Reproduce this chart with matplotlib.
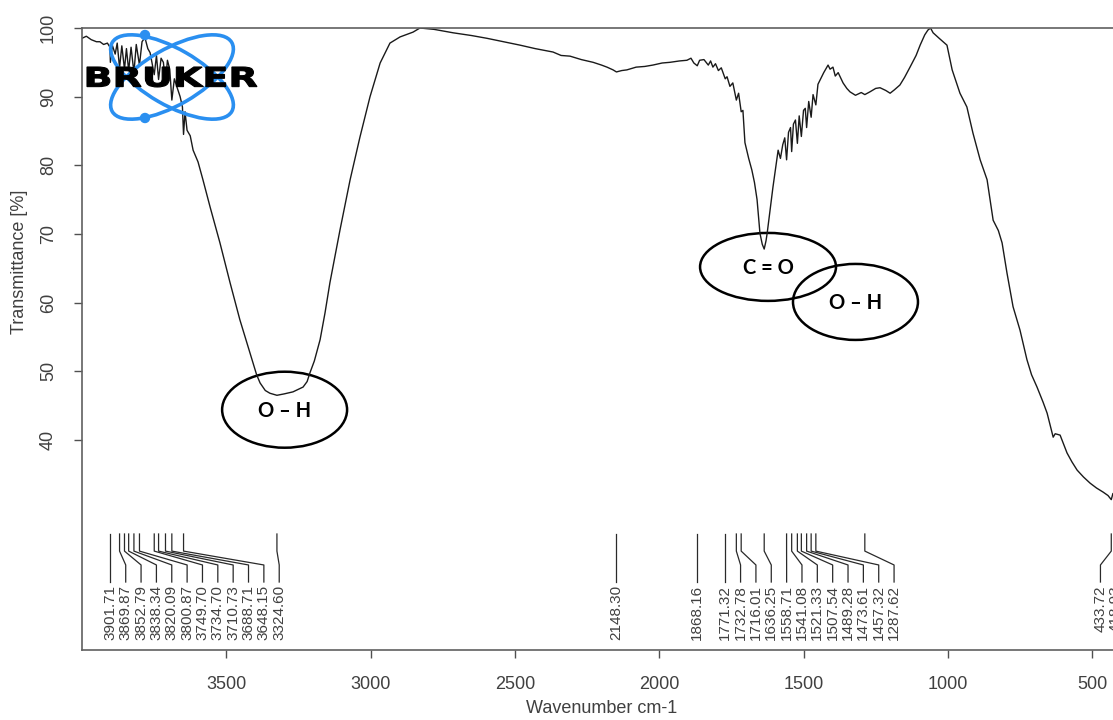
import matplotlib
matplotlib.use('Agg')
import matplotlib.pyplot as plt
from matplotlib.patches import Ellipse, Circle, PathPatch
from matplotlib.textpath import TextPath
from matplotlib.font_manager import FontProperties
from matplotlib.transforms import Affine2D, IdentityTransform

plt.rcParams['font.family'] = ['Liberation Sans', 'DejaVu Sans']

# spectrum (wavenumber, transmittance %)
wavenumber = [4000, 3985, 3968, 3950, 3938, 3925, 3912, 3903, 3901.7, 3895, 3885, 3878,
              3869.9, 3862, 3852.8, 3846, 3838.3, 3830, 3820.1, 3812, 3800.9, 3792, 3782,
              3772, 3764, 3749.7, 3742, 3734.7, 3726, 3718, 3710.7, 3704, 3696, 3688.7,
              3680, 3671, 3660, 3652, 3648.2, 3643, 3636, 3625, 3615, 3598, 3581, 3556,
              3522, 3487, 3453, 3418, 3395, 3383, 3365, 3349, 3324.6, 3300, 3269, 3234,
              3220, 3210, 3195, 3175, 3158, 3141, 3106, 3071, 3037, 3002, 2967, 2933,
              2898, 2853, 2829, 2780, 2714, 2650, 2597, 2540, 2482, 2430, 2368, 2340,
              2309, 2270, 2229, 2200, 2181, 2160, 2148.3, 2130, 2112, 2080, 2050, 2022,
              1990, 1963, 1930, 1904, 1890, 1880, 1868.2, 1860, 1845, 1830, 1822, 1814,
              1805, 1795, 1785, 1771.3, 1765, 1755, 1745, 1732.8, 1725, 1716, 1710, 1703,
              1690, 1679, 1670, 1661, 1651, 1643, 1636.3, 1630, 1626, 1616, 1606, 1597,
              1588, 1580, 1572, 1565, 1558.7, 1552, 1545, 1541.1, 1535, 1528, 1521.3,
              1515, 1507.5, 1500, 1494, 1489.3, 1482, 1473.6, 1467, 1457.3, 1450, 1443,
              1430, 1415, 1408, 1398, 1390, 1380, 1363, 1350, 1339, 1320, 1300, 1287.6,
              1270, 1250, 1235, 1215, 1200, 1185, 1166, 1150, 1131, 1110, 1096, 1080,
              1069, 1060, 1051, 1030, 1003, 985, 970, 958, 934, 913, 888, 864, 843, 825,
              812, 795, 774, 750, 726, 710, 691, 670, 656, 635, 628, 611, 600, 587, 570,
              552, 530, 507, 485, 462, 445, 433.7, 428, 418.9, 410, 400]
transmittance = [98.5, 98.8, 98.3, 98.0, 98.0, 97.6, 97.8, 97.2, 95.0, 97.5, 96.2, 97.8,
                 94.2, 97.4, 94.0, 97.0, 93.8, 97.2, 93.5, 97.6, 94.6, 98.0, 98.6,
                 97.0, 96.4, 93.2, 96.0, 92.5, 95.6, 95.0, 92.0, 95.3, 94.0, 89.5,
                 92.6, 91.4, 90.0, 88.5, 84.5, 87.8, 85.1, 84.3, 82.2, 80.5, 77.9, 73.9,
                 68.7, 62.9, 57.5, 52.7, 49.5, 48.3, 47.2, 46.8, 46.5, 46.7, 47.0, 47.7,
                 48.5, 49.8, 51.5, 54.6, 58.5, 62.9, 70.6, 77.9, 84.1, 90.0, 94.9, 97.8,
                 98.7, 99.4, 100.0, 99.8, 99.3, 98.9, 98.5, 98.0, 97.5, 97.0, 96.5, 96.0,
                 95.9, 95.4, 95.0, 94.6, 94.3, 93.9, 93.6, 93.8, 93.9, 94.3, 94.4, 94.6,
                 94.9, 95.0, 95.2, 95.3, 95.6, 94.9, 94.5, 95.3, 95.4, 94.6, 95.2, 94.3,
                 94.8, 93.8, 94.2, 92.6, 92.9, 91.5, 92.0, 89.5, 90.5, 87.8, 88.0, 83.3,
                 81.0, 79.3, 77.5, 75.0, 70.1, 68.5, 67.8, 69.0, 70.1, 73.5, 76.8, 79.5,
                 82.2, 81.0, 83.0, 84.0, 80.8, 84.8, 85.5, 82.0, 86.0, 86.6, 83.2,
                 87.2, 84.2, 88.0, 88.3, 85.5, 89.3, 87.0, 90.3, 88.8, 91.8, 92.4,
                 93.5, 94.6, 94.0, 94.3, 93.0, 93.5, 92.0, 91.2, 90.7, 90.2, 90.6, 90.3,
                 90.7, 91.2, 91.3, 90.9, 90.5, 91.0, 91.7, 92.8, 94.3, 96.0, 97.5, 99.0,
                 99.7, 100.0, 99.3, 98.5, 97.5, 93.9, 92.0, 90.5, 88.5, 84.7, 80.8, 77.9, 72.0, 70.5,
                 68.7, 64.3, 59.4, 56.0, 51.7, 49.5, 47.7, 45.5, 43.9, 40.4, 40.9, 40.7, 39.5, 38.1, 36.8,
                 35.6, 34.6, 33.7, 33.0, 32.4, 31.9, 31.3, 32.2, 31.3, 31.8, 32.0]

peaks = [3901.71, 3869.87, 3852.79, 3838.34, 3820.09, 3800.87, 3749.70, 3734.70,
         3710.73, 3688.71, 3648.15, 3324.60, 2148.30, 1868.16, 1771.32, 1732.78,
         1716.01, 1636.25, 1558.71, 1541.08, 1521.33, 1507.54, 1489.28, 1473.61,
         1457.32, 1287.62, 433.72, 418.93]

bands = ['O \u2013 H', 'C = O', 'O \u2013 H']
band_x = [3298, 1623, 1320]
band_y = [44.4, 65.2, 60.1]

txt = '#404040'
fig = plt.figure(figsize=(11.13, 7.2), dpi=100)
W, H = 1113, 720
ax = fig.add_axes([82 / W, 70 / H, 1039 / W, 622 / H])
ax.plot(wavenumber, transmittance, color='#1a1a1a', lw=1.0)
ax.set_xlim(4000, 400)
ax.set_ylim(9.4, 100)

ax.set_xticks([3500, 3000, 2500, 2000, 1500, 1000, 500])
ax.set_yticks([40, 50, 60, 70, 80, 90, 100])
ax.tick_params(direction='out', length=6, width=1, colors='#505050',
               labelcolor=txt, labelsize=13)
ax.tick_params(axis='x', pad=13)
ax.tick_params(axis='y', labelrotation=90, pad=12)
for lbl in ax.get_yticklabels():
    lbl.set_va('center')
for s in ax.spines.values():
    s.set_color('#606060')
    s.set_linewidth(1.2)

ax.set_xlabel('Wavenumber cm-1', fontsize=13, color=txt, labelpad=5)
ax.set_ylabel('Transmittance [%]', fontsize=13, color=txt)
ax.yaxis.set_label_coords(-0.052, 0.624)

# peak labels: spread so they don't overlap
gap = 15.35 * 3600 / 1039
lab = []
for i, p in enumerate(peaks):
    lab.append(p if i == 0 else min(p, lab[-1] - gap))
lab[-1] = max(lab[-1], 418)
for i in range(len(lab) - 2, -1, -1):
    lab[i] = max(lab[i], lab[i + 1] + gap)

tr = ax.get_xaxis_transform()
for p, l in zip(peaks, lab):
    ax.plot([p, p, l, l], [0.1865, 0.159, 0.1367, 0.1093], color='#2a2a2a',
            lw=0.9, transform=tr)
    ax.text(l, 0.1045, '%.2f' % p, rotation=90, ha='center', va='top',
            fontsize=11, color=txt, transform=tr)

# band annotations
for b, bx, by in zip(bands, band_x, band_y):
    w = 433 if b.startswith('O') else 471
    h = 11.07 if b.startswith('O') else 9.9
    ax.add_patch(Ellipse((bx, by), w, h, fill=False, ec='black', lw=1.8))
    ax.text(bx, by - 0.2, b, ha='center', va='center', fontsize=14.5,
            fontweight='bold', family='Lato', color='black')

# Bruker logo
blue = '#2a8ff0'
for ang in (30, -30):
    fig.add_artist(Ellipse((172, 643), 138, 56, angle=ang, fill=False, ec=blue,
                           lw=2.6, transform=IdentityTransform()))
for cy in (685, 602):
    fig.add_artist(Circle((145, cy), 4.5, color=blue, transform=IdentityTransform()))
tp = TextPath((0, 0), 'BRUKER', size=1, prop=FontProperties(family='DejaVu Sans', weight='bold'))
bb = tp.get_extents()
t = Affine2D().translate(-bb.x0, -bb.y0).scale(170 / bb.width, 20 / bb.height).translate(87, 633)
fig.add_artist(PathPatch(tp, fc='black', ec='black', lw=0.8, transform=t))

fig.savefig('out.png', dpi=100)
